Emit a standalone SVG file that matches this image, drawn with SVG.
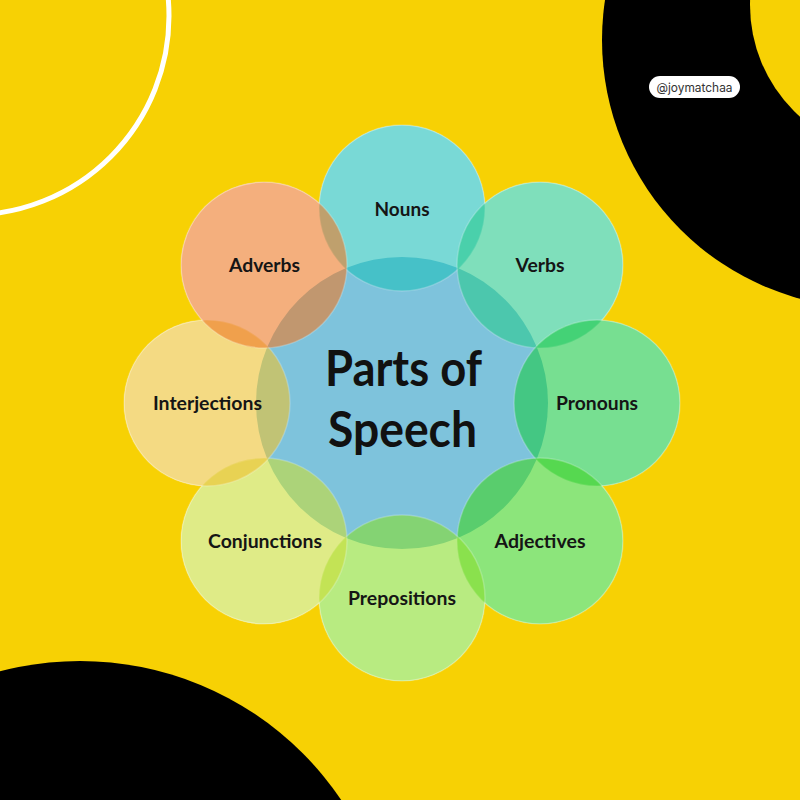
<svg xmlns="http://www.w3.org/2000/svg" width="800" height="800" viewBox="0 0 800 800">
  <style>
    .under { fill: #ffffff; }
    .petal { opacity: 0.6; stroke: #ffffff; stroke-opacity: 0.35; stroke-width: 1.5; }
    .lbl { font-family: Lato, "Open Sans", "Liberation Sans", sans-serif; font-weight: 700; font-size: 19px; fill: #151515; text-anchor: middle; }
    .title { font-family: Lato, "Open Sans", "Liberation Sans", sans-serif; font-weight: 700; font-size: 49px; fill: #111111; text-anchor: middle; }
  </style>
  <rect width="800" height="800" fill="#F7D104"/>
  <!-- decorative background -->
  <circle cx="-30" cy="16" r="199" fill="none" stroke="#ffffff" stroke-width="5"/>
  <circle cx="870" cy="40" r="268" fill="#000000"/>
  <circle cx="900" cy="5" r="150" fill="#F7D104"/>
  <circle cx="80" cy="976" r="315" fill="#000000"/>
  <g id="watermark">
    <rect x="649" y="76" width="91" height="22" rx="11" fill="#ffffff"/>
    <text x="694.5" y="91.5" font-family="Inter, 'Liberation Sans', sans-serif" font-size="12.5" fill="#333333" text-anchor="middle" textLength="76" lengthAdjust="spacingAndGlyphs">@joymatchaa</text>
  </g>
  <!-- white underlay so translucent circles blend like the original -->
  <g id="underlay">
    <circle class="under" cx="402" cy="403" r="146"/>
    <circle class="under" cx="402" cy="208" r="83"/>
    <circle class="under" cx="540" cy="265" r="83"/>
    <circle class="under" cx="597" cy="403" r="83"/>
    <circle class="under" cx="540" cy="541" r="83"/>
    <circle class="under" cx="402" cy="598" r="83"/>
    <circle class="under" cx="264" cy="541" r="83"/>
    <circle class="under" cx="207" cy="403" r="83"/>
    <circle class="under" cx="264" cy="265" r="83"/>
  </g>
  <g id="center">
    <circle cx="402" cy="403" r="146" fill="#7EC3DC"/>
  </g>
  <g id="nouns"><circle class="petal" cx="402" cy="208" r="83" fill="#21C0BB"/></g>
  <g id="verbs"><circle class="petal" cx="540" cy="265" r="83" fill="#2BCB8F"/></g>
  <g id="pronouns"><circle class="petal" cx="597" cy="403" r="83" fill="#1ECA49"/></g>
  <g id="adjectives"><circle class="petal" cx="540" cy="541" r="83" fill="#41D525"/></g>
  <g id="prepositions"><circle class="petal" cx="402" cy="598" r="83" fill="#89DF2F"/></g>
  <g id="conjunctions"><circle class="petal" cx="264" cy="541" r="83" fill="#CBDF39"/></g>
  <g id="interjections"><circle class="petal" cx="207" cy="403" r="83" fill="#EEC332"/></g>
  <g id="adverbs"><circle class="petal" cx="264" cy="265" r="83" fill="#EE7B28"/></g>
  <g id="labels">
    <text class="title" x="403.5" y="386" textLength="157" lengthAdjust="spacingAndGlyphs">Parts of</text>
    <text class="title" x="402.5" y="447" textLength="149" lengthAdjust="spacingAndGlyphs">Speech</text>
    <text class="lbl" x="402" y="216" textLength="55" lengthAdjust="spacingAndGlyphs">Nouns</text>
    <text class="lbl" x="540" y="272" textLength="49" lengthAdjust="spacingAndGlyphs">Verbs</text>
    <text class="lbl" x="597" y="410" textLength="82" lengthAdjust="spacingAndGlyphs">Pronouns</text>
    <text class="lbl" x="540" y="548" textLength="91" lengthAdjust="spacingAndGlyphs">Adjectives</text>
    <text class="lbl" x="402" y="605" textLength="108" lengthAdjust="spacingAndGlyphs">Prepositions</text>
    <text class="lbl" x="265" y="548" textLength="114" lengthAdjust="spacingAndGlyphs">Conjunctions</text>
    <text class="lbl" x="207.5" y="410" textLength="109" lengthAdjust="spacingAndGlyphs">Interjections</text>
    <text class="lbl" x="264.5" y="272" textLength="71" lengthAdjust="spacingAndGlyphs">Adverbs</text>
  </g>
</svg>
